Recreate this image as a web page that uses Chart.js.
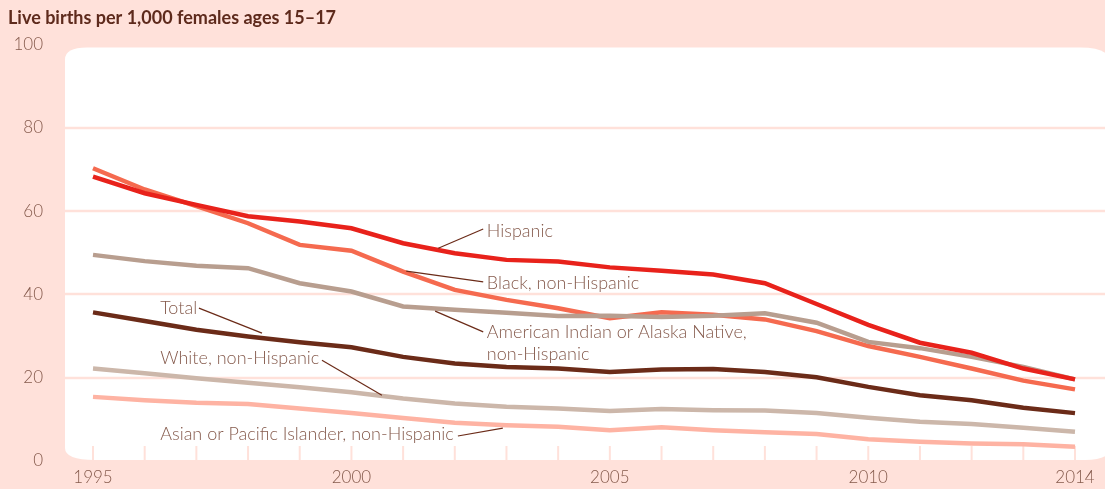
<!DOCTYPE html>
<html lang="en">
<head>
  <meta charset="UTF-8">
  <title>Live births per 1,000 females ages 15–17</title>
  <script src="https://cdn.jsdelivr.net/npm/chart.js"></script>
  <style>
    body { margin: 0; background: #ffe1da; overflow: hidden; }
    canvas { display: block; }
  </style>
</head>
<body>
  <canvas id="graph" width="1105" height="489"></canvas>

  <script>
    const years = ['1995','1996','1997','1998','1999','2000','2001','2002','2003','2004',
                   '2005','2006','2007','2008','2009','2010','2011','2012','2013','2014'];
    const xTickLabels = ['1995', '2000', '2005', '2010', '2014'];
    const yGridValues = [20, 40, 60, 80];

    const hispanic = [68.3, 64.3, 61.5, 58.8, 57.5, 55.9, 52.3, 49.9, 48.3, 47.9,
                      46.5, 45.7, 44.8, 42.7, 37.7, 32.7, 28.4, 26.0, 22.2, 19.6];
    const black    = [70.3, 65.2, 61.2, 57.1, 51.9, 50.5, 45.5, 41.1, 38.7, 36.7,
                      34.3, 35.7, 35.1, 34.0, 31.2, 27.6, 25.0, 22.2, 19.3, 17.2];
    const aian     = [49.5, 48.0, 46.9, 46.3, 42.7, 40.7, 37.1, 36.3, 35.6, 34.8,
                      34.9, 34.6, 34.9, 35.5, 33.2, 28.6, 27.1, 25.0, 22.6, 19.6];
    const total    = [35.7, 33.6, 31.5, 29.9, 28.5, 27.3, 25.0, 23.4, 22.6, 22.2,
                      21.4, 22.0, 22.1, 21.4, 20.1, 17.8, 15.8, 14.6, 12.8, 11.5];
    const white    = [22.2, 21.1, 19.9, 18.8, 17.7, 16.5, 15.0, 13.8, 13.0, 12.6,
                      12.0, 12.5, 12.2, 12.1, 11.5, 10.4, 9.4, 8.9, 8.0, 7.0];
    const asian    = [15.4, 14.6, 14.0, 13.7, 12.6, 11.5, 10.3, 9.2, 8.6, 8.2,
                      7.4, 8.1, 7.4, 6.9, 6.5, 5.2, 4.6, 4.2, 4.0, 3.4];

    // labels placed in data units: x = year, y = value
    const notes = [
      { lines: ['Hispanic'], at: [2002.62, 55.2], lead: [[2001.68, 51.1], [2002.55, 55.7]] },
      { lines: ['Black, non-Hispanic'], at: [2002.62, 42.7], lead: [[2001.06, 45.6], [2002.55, 43.0]] },
      { lines: ['American Indian or Alaska Native,', 'non-Hispanic'], at: [2002.62, 31.0], lead: [[2001.62, 36.0], [2002.55, 31.0]] },
      { lines: ['Total'], at: [1996.30, 36.7], lead: [[1997.05, 36.7], [1998.27, 30.7]] },
      { lines: ['White, non-Hispanic'], at: [1996.30, 24.7], lead: [[1999.43, 24.2], [2000.59, 15.8]] },
      { lines: ['Asian or Pacific Islander, non-Hispanic'], at: [1996.30, 6.5], lead: [[2002.06, 6.0], [2002.93, 7.9]] }
    ];

    const PINK = '#ffe1da', GRID = '#ffe1da', TXT = '#855a4c', DARK = '#6b2b18';
    const FONT = 'Lato, "Open Sans", sans-serif';

    const decor = {
      id: 'decor',
      beforeDraw(chart) {
        const { ctx, width, height, chartArea, scales } = chart;
        ctx.save();
        ctx.fillStyle = PINK;
        ctx.fillRect(0, 0, width, height);
        const l = chartArea.left - 28, t = chartArea.top + 3, r = width + 5, b = chartArea.bottom - 1;
        ctx.fillStyle = '#ffffff';
        ctx.beginPath();
        ctx.moveTo(l, t + 12);
        ctx.quadraticCurveTo(l, t, l + 22, t);
        ctx.lineTo(r - 30, t);
        ctx.quadraticCurveTo(r, t, r, t + 15);
        ctx.lineTo(r, b - 12);
        ctx.quadraticCurveTo(r, b, r - 25, b);
        ctx.lineTo(l + 30, b);
        ctx.quadraticCurveTo(l, b, l, b - 12);
        ctx.closePath();
        ctx.fill();

        ctx.strokeStyle = GRID;
        ctx.lineWidth = 2.5;
        yGridValues.forEach(v => {
          const y = Math.round(scales.y.getPixelForValue(v));
          ctx.beginPath();
          ctx.moveTo(l, y);
          ctx.lineTo(width, y);
          ctx.stroke();
        });
        ctx.lineWidth = 2;
        years.forEach((yr, i) => {
          const x = scales.x.getPixelForValue(i);
          ctx.beginPath();
          ctx.moveTo(x, b - 14);
          ctx.lineTo(x, b + 1);
          ctx.stroke();
        });
        ctx.restore();
      },
      afterDatasetsDraw(chart) {
        const { ctx, scales } = chart;
        const px = yr => scales.x.getPixelForValue(yr - 1995);
        const py = v => scales.y.getPixelForValue(v);
        ctx.save();
        ctx.strokeStyle = DARK;
        ctx.lineWidth = 1.2;
        ctx.fillStyle = TXT;
        ctx.font = '300 18px ' + FONT;
        ctx.textBaseline = 'middle';
        ctx.textAlign = 'left';
        notes.forEach(n => {
          ctx.beginPath();
          ctx.moveTo(px(n.lead[0][0]), py(n.lead[0][1]));
          ctx.lineTo(px(n.lead[1][0]), py(n.lead[1][1]));
          ctx.stroke();
          n.lines.forEach((s, k) => {
            ctx.fillText(s, px(n.at[0]), py(n.at[1]) + k * 22);
          });
        });
        ctx.restore();
      }
    };

    const mkSet = (label, data, color) => ({
      label, data, borderColor: color, backgroundColor: color,
      borderWidth: 4.5, pointRadius: 0, tension: 0, fill: false
    });

    new Chart(document.getElementById('graph'), {
      type: 'line',
      data: {
        labels: years,
        datasets: [
          mkSet('Hispanic', hispanic, '#e8221b'),
          mkSet('American Indian or Alaska Native, non-Hispanic', aian, '#b89e8f'),
          mkSet('Black, non-Hispanic', black, '#f56a4f'),
          mkSet('Total', total, '#6b2b18'),
          mkSet('White, non-Hispanic', white, '#ccb7aa'),
          mkSet('Asian or Pacific Islander, non-Hispanic', asian, '#feb3a3')
        ]
      },
      options: {
        responsive: false,
        animation: false,
        layout: { padding: { left: 8, right: 30, top: 0, bottom: 0 } },
        plugins: {
          legend: { display: false },
          tooltip: { enabled: false },
          title: {
            display: true,
            text: 'Live births per 1,000 females ages 15–17',
            align: 'start',
            color: '#5e2a1c',
            font: { family: FONT, size: 18, weight: 'bold' },
            padding: { top: 7, bottom: 16 }
          }
        },
        scales: {
          x: {
            grid: { display: false, drawTicks: false },
            border: { display: false },
            ticks: {
              autoSkip: false, maxRotation: 0, padding: 6, color: TXT,
              font: { family: FONT, size: 17, weight: '300' },
              callback: (v, i) => xTickLabels.includes(years[i]) ? years[i] : ''
            },
            afterFit: s => { s.height = 28; }
          },
          y: {
            min: 0, max: 100,
            grid: { display: false, drawTicks: true, tickLength: 50 },
            border: { display: false },
            ticks: {
              stepSize: 20, padding: 0, color: TXT,
              font: { family: FONT, size: 17, weight: '300' }
            },
            afterFit: s => { s.width = 85; }
          }
        }
      },
      plugins: [decor]
    });
  </script>
</body>
</html>
